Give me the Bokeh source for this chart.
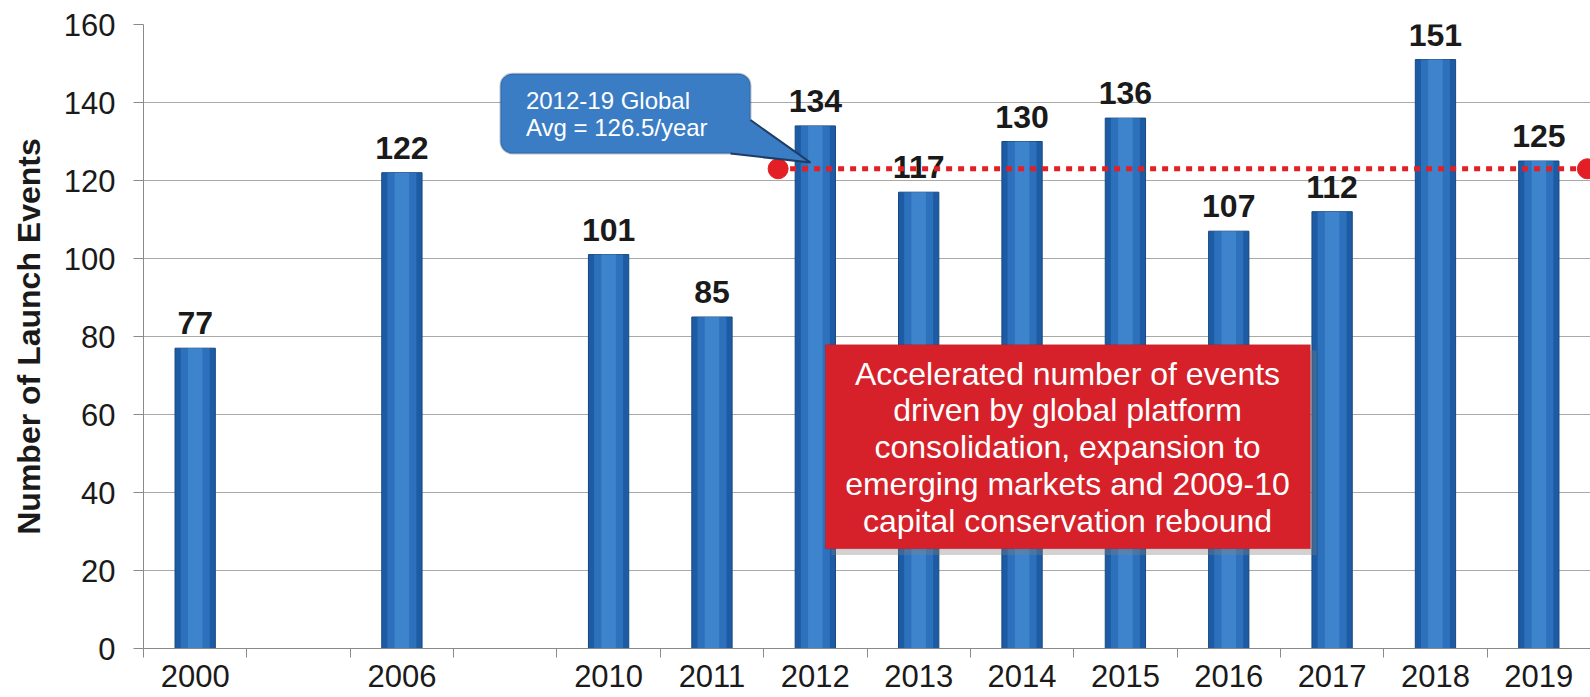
from bokeh.plotting import figure
from bokeh.models import Range1d, FixedTicker, BoxAnnotation, LabelSet, ColumnDataSource
from bokeh.core.properties import value
from bokeh.embed import file_html
from bokeh.resources import INLINE

FONT = "Liberation Sans"

# ---- data -------------------------------------------------------------
categories = ["2000", "", "2006", "", "2010", "2011", "2012", "2013",
              "2014", "2015", "2016", "2017", "2018", "2019"]
values = [77, None, 122, None, 101, 85, 134, 117, 130, 136, 107, 112, 151, 125]
y_ticks = [0, 20, 40, 60, 80, 100, 120, 140, 160]
avg_level = 123
avg_start_category = "2012"
callout_lines = ["2012-19 Global", "Avg = 126.5/year"]
note_lines = ["Accelerated number of events",
              "driven by global platform",
              "consolidation, expansion to",
              "emerging markets and 2009-10",
              "capital conservation rebound"]
y_title = "Number of Launch Events"

# ---- derived ------------------------------------------------------------
n = len(categories)
bar_x = [i + 0.5 for i, c in enumerate(categories) if c]
bar_y = [v for c, v in zip(categories, values) if c]
bar_lbl = [str(v) for v in bar_y]
boundaries = list(range(n + 1))
src = ColumnDataSource(dict(x=bar_x, y=bar_y, lbl=bar_lbl))

p = figure(width=1590, height=697, output_backend="svg", toolbar_location=None,
           x_range=Range1d(0, n), y_range=Range1d(0, 160),
           min_border_left=143, min_border_right=0, min_border_top=24,
           min_border_bottom=49)
p.outline_line_color = None
p.background_fill_color = "white"
p.border_fill_color = "white"

# grid
p.xgrid.visible = False
p.ygrid.ticker = FixedTicker(ticks=y_ticks)
p.ygrid.grid_line_color = "#A9A9A9"
p.ygrid.grid_line_width = 1.2

# y axis
ya = p.yaxis[0]
ya.ticker = FixedTicker(ticks=y_ticks)
ya.axis_line_color = "#8A8A8A"
ya.major_tick_line_color = "#8A8A8A"
ya.major_tick_out = 10
ya.major_tick_in = 0
ya.minor_tick_out = 0
ya.major_label_standoff = 18
ya.major_label_text_font = FONT
ya.major_label_text_font_size = "31px"
ya.major_label_text_color = "#1a1a1a"
ya.axis_label = y_title
ya.axis_label_text_font = FONT
ya.axis_label_text_font_size = "32px"
ya.axis_label_text_font_style = "bold"
ya.axis_label_text_color = "#1a1a1a"
ya.axis_label_standoff = 14

# x axis
xa = p.xaxis[0]
xa.ticker = FixedTicker(ticks=bar_x, minor_ticks=boundaries)
xa.major_label_overrides = {x: c for x, c in zip(bar_x, [c for c in categories if c])}
xa.axis_line_color = "#8A8A8A"
xa.major_tick_out = 0
xa.major_tick_in = 0
xa.minor_tick_out = 9
xa.minor_tick_in = 0
xa.minor_tick_line_color = "#8A8A8A"
xa.major_label_standoff = 7
xa.major_label_text_font = FONT
xa.major_label_text_font_size = "31px"
xa.major_label_text_color = "#1a1a1a"

# bars with a soft cylindrical shading
p.vbar(x=bar_x, top=bar_y, bottom=0, width=0.39,
       fill_color="#1D5CA4", line_color="#17487F", line_width=1)
p.vbar(x=bar_x, top=bar_y, bottom=0, width=0.28,
       fill_color="#3A84D1", fill_alpha=0.55, line_color=None)
p.vbar(x=bar_x, top=bar_y, bottom=0, width=0.14,
       fill_color="#559BE0", fill_alpha=0.45, line_color=None)

# value labels (annotation, so not clipped at the frame top)
labels = LabelSet(x="x", y="y", text="lbl", source=src,
                  text_align="center", text_baseline="bottom", y_offset=14,
                  text_font=value(FONT), text_font_style="bold",
                  text_font_size="32px", text_color="#1a1a1a")
p.add_layout(labels)

# average dotted line with end dots
x0 = categories.index(avg_start_category) + 0.14
x1 = n - 0.03
p.line([x0, x1], [avg_level, avg_level], line_color="#E31E24",
       line_width=5, line_dash="6 6", level="overlay")
p.scatter([x0, x1], [avg_level, avg_level], size=20,
          fill_color="#E31E24", line_color="#E31E24", level="overlay")

# callout (blue rounded box with pointer)
callout = BoxAnnotation(left=3.454, right=5.873, bottom=126.9, top=147.4,
                        fill_color="#3B7DC4", fill_alpha=1.0,
                        line_color="#1D3D66", line_width=2, border_radius=12)
p.add_layout(callout)
ptr_x = [5.68, 6.453, 5.873, 5.78]
ptr_y = [126.9, 124.6, 135.5, 130.0]
p.patch(ptr_x, ptr_y, fill_color="#3B7DC4", line_color=None, level="overlay")
p.line(ptr_x[:3], ptr_y[:3], line_color="#1D3D66", line_width=2, level="overlay")
p.text(x=[3.70, 3.70], y=[140.5, 133.6], text=callout_lines,
       text_align="left", text_baseline="middle",
       text_font=value(FONT), text_font_size="24px", text_color="white",
       level="overlay")

# red note box
shadow = BoxAnnotation(left=6.657, right=11.35, bottom=24.0, top=76.4,
                       fill_color="#7F7F7F", fill_alpha=0.35, line_color=None)
p.add_layout(shadow)
note = BoxAnnotation(left=6.597, right=11.29, bottom=25.6, top=77.9,
                     fill_color="#D6212A", fill_alpha=1.0,
                     line_color="#B3151D", line_width=1)
p.add_layout(note)
note_y = [70.5 - 9.45 * i for i in range(len(note_lines))]
p.text(x=[8.94] * len(note_lines), y=note_y, text=note_lines,
       text_align="center", text_baseline="middle",
       text_font=value(FONT), text_font_size="32px", text_color="white",
       level="overlay")

open("out.html", "w").write(file_html(p, INLINE))
